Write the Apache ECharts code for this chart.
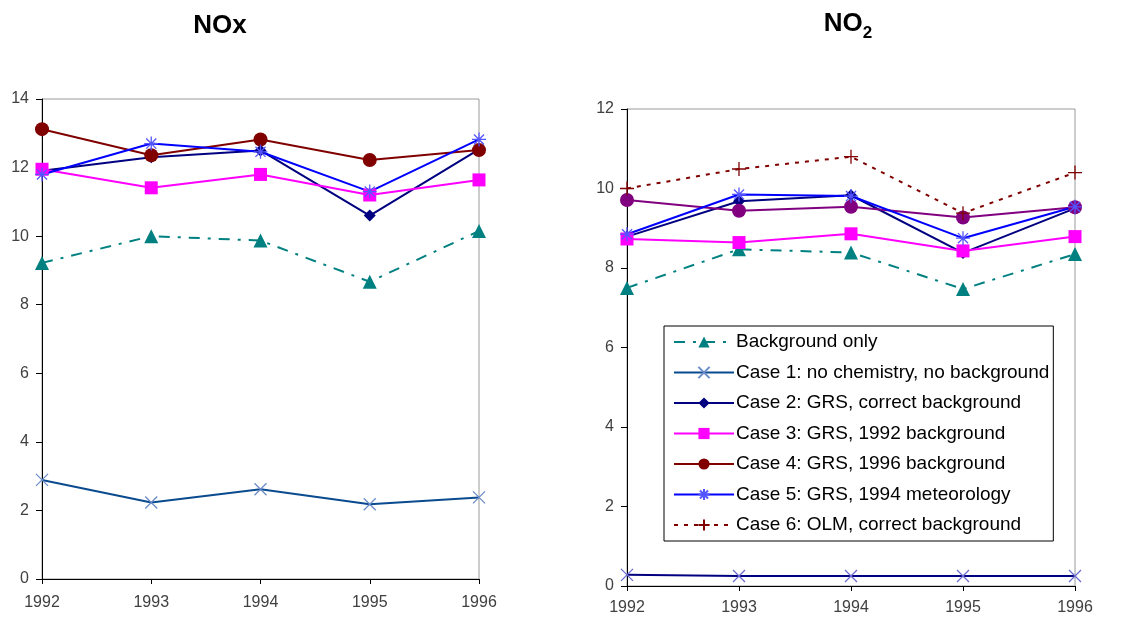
<!DOCTYPE html>
<html>
<head>
<meta charset="utf-8">
<script src="https://cdn.jsdelivr.net/npm/echarts@6/dist/echarts.min.js"></script>
<style>
html,body{margin:0;padding:0;background:#fff;}
#chart{width:1138px;height:619px;}
</style>
</head>
<body>
<div id="chart"></div>
<script>
const years = ['1992', '1993', '1994', '1995', '1996'];
const seriesNames = [
  'Background only',
  'Case 1: no chemistry, no background',
  'Case 2: GRS, correct background',
  'Case 3: GRS, 1992 background',
  'Case 4: GRS, 1996 background',
  'Case 5: GRS, 1994 meteorology',
  'Case 6: OLM, correct background'
];

// NOx panel
const noxBackground = [9.22, 10.0, 9.87, 8.67, 10.15];
const noxCase1 = [2.89, 2.23, 2.62, 2.18, 2.38];
const noxCase2 = [11.91, 12.3, 12.5, 10.6, 12.53];
const noxCase3 = [11.95, 11.41, 11.8, 11.2, 11.64];
const noxCase4 = [13.12, 12.36, 12.82, 12.22, 12.51];
const noxCase5 = [11.8, 12.7, 12.46, 11.3, 12.82];

// NO2 panel
const no2Background = [7.5, 8.47, 8.39, 7.47, 8.35];
const no2Case1 = [0.28, 0.25, 0.25, 0.25, 0.25];
const no2Case2 = [8.79, 9.68, 9.83, 8.38, 9.5];
const no2Case3 = [8.73, 8.64, 8.86, 8.43, 8.79];
const no2Case4 = [9.71, 9.44, 9.54, 9.27, 9.53];
const no2Case5 = [8.85, 9.85, 9.81, 8.75, 9.54];
const no2Case6 = [10.0, 10.49, 10.8, 9.38, 10.4];

const noxTicks = [0, 2, 4, 6, 8, 10, 12, 14];
const no2Ticks = [0, 2, 4, 6, 8, 10, 12];

const FONT = 'Liberation Sans, Arial, sans-serif';
const X_PATH = 'path://M0,0L10,10M10,0L0,10';
const STAR_PATH = 'path://M5,0L5,10M0,5L10,5M1.4,1.4L8.6,8.6M8.6,1.4L1.4,8.6';
const PLUS_PATH = 'path://M5,0L5,10M0,5L10,5';

function mk(name, data, idx, opts) {
  return {
    name: name,
    type: 'line',
    xAxisIndex: idx,
    yAxisIndex: idx,
    data: data,
    clip: false,
    symbol: opts.symbol,
    symbolSize: opts.size,
    showAllSymbol: true,
    lineStyle: { color: opts.line, width: opts.width || 2, type: opts.dash || 'solid' },
    itemStyle: opts.stroke
      ? { color: 'none', borderColor: opts.mark, borderWidth: 1.3 }
      : { color: opts.mark, borderColor: opts.mark, borderWidth: 0 },
    emphasis: { disabled: true },
    animation: false,
    z: opts.z || 2
  };
}

function axisX(idx, margin) {
  return {
    type: 'category', gridIndex: idx, data: years, boundaryGap: false,
    axisLine: { lineStyle: { color: '#000', width: 1 } },
    axisTick: { show: true, length: 5, alignWithLabel: true, lineStyle: { color: '#000' } },
    axisLabel: { color: '#404040', fontSize: 16, fontFamily: FONT, margin: margin },
    splitLine: { show: false }
  };
}
function axisY(idx, ticks) {
  return {
    type: 'value', gridIndex: idx, min: ticks[0], max: ticks[ticks.length - 1],
    interval: ticks[1] - ticks[0],
    axisLine: { show: true, lineStyle: { color: '#000', width: 1 } },
    axisTick: { show: true, length: 6, lineStyle: { color: '#000' } },
    axisLabel: { color: '#404040', fontSize: 16, fontFamily: FONT, margin: 13 },
    splitLine: { show: false }
  };
}

const series = [
  mk(seriesNames[0], noxBackground, 0, { symbol: 'triangle', size: 14, line: '#008080', mark: '#008080', dash: [11, 8, 3, 8] }),
  mk(seriesNames[1], noxCase1, 0, { symbol: X_PATH, size: 12, line: '#0a4a8f', mark: '#6a8cc8', stroke: true }),
  mk(seriesNames[2], noxCase2, 0, { symbol: 'diamond', size: 12, line: '#000080', mark: '#000080' }),
  mk(seriesNames[3], noxCase3, 0, { symbol: 'rect', size: 13, line: '#ff00ff', mark: '#ff00ff' }),
  mk(seriesNames[4], noxCase4, 0, { symbol: 'circle', size: 14, line: '#800000', mark: '#800000' }),
  mk(seriesNames[5], noxCase5, 0, { symbol: STAR_PATH, size: 14, line: '#0000ff', mark: '#5555ff', stroke: true }),

  mk(seriesNames[0], no2Background, 1, { symbol: 'triangle', size: 14, line: '#008080', mark: '#008080', dash: [11, 8, 3, 8] }),
  mk(seriesNames[1], no2Case1, 1, { symbol: X_PATH, size: 12, line: '#000080', mark: '#6a6ad0', stroke: true }),
  mk(seriesNames[2], no2Case2, 1, { symbol: 'diamond', size: 12, line: '#000080', mark: '#000080' }),
  mk(seriesNames[3], no2Case3, 1, { symbol: 'rect', size: 13, line: '#ff00ff', mark: '#ff00ff' }),
  mk(seriesNames[4], no2Case4, 1, { symbol: 'circle', size: 14, line: '#800080', mark: '#800080' }),
  mk(seriesNames[5], no2Case5, 1, { symbol: STAR_PATH, size: 14, line: '#0000ff', mark: '#5555ff', stroke: true }),
  mk(seriesNames[6], no2Case6, 1, { symbol: PLUS_PATH, size: 14, line: '#800000', mark: '#800000', dash: [4, 6], stroke: true })
];

const chart = echarts.init(document.getElementById('chart'), null, { renderer: 'canvas' });
chart.setOption({
  backgroundColor: '#fff',
  animation: false,
  title: [
    { text: 'NOx', left: 215, top: 8, textAlign: 'center',
      textStyle: { fontSize: 26, fontWeight: 'bold', fontFamily: FONT, color: '#000' } },
    { text: '{a|NO}{b|2}', left: 843, top: 4, textAlign: 'center',
      textStyle: { fontFamily: FONT, color: '#000',
        rich: {
          a: { fontSize: 26, fontWeight: 'bold', fontFamily: FONT, color: '#000', lineHeight: 30 },
          b: { fontSize: 17, fontWeight: 'bold', fontFamily: FONT, color: '#000', lineHeight: 17, verticalAlign: 'bottom', padding: [0, 0, -3, 0] }
        } } }
  ],
  grid: [
    { left: 42, top: 99, width: 437, height: 480, show: true, borderColor: '#9a9a9a', borderWidth: 1, containLabel: false },
    { left: 627, top: 109, width: 448, height: 477, show: true, borderColor: '#9a9a9a', borderWidth: 1, containLabel: false }
  ],
  xAxis: [axisX(0, 16), axisX(1, 14)],
  yAxis: [axisY(0, noxTicks), axisY(1, no2Ticks)],
  legend: {
    orient: 'vertical',
    left: 664, top: 326,
    data: seriesNames,
    padding: [6, 4, 6, 9],
    itemWidth: 60, itemHeight: 14, itemGap: 10.5,
    backgroundColor: '#fff',
    borderColor: '#000', borderWidth: 1,
    borderRadius: 0,
    selectedMode: false,
    textStyle: { fontSize: 19, fontFamily: FONT, color: '#000', lineHeight: 20, padding: [0, 0, 0, -3] },
    z: 10
  },
  series: series
});
</script>
</body>
</html>
